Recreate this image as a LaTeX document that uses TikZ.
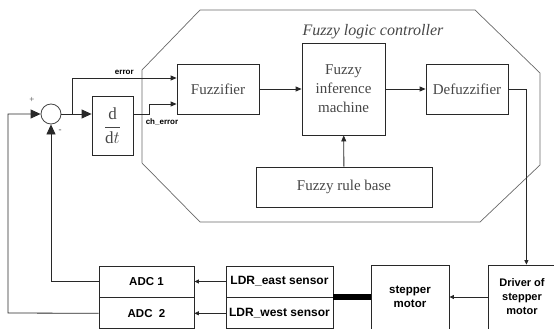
\documentclass[tikz,border=0pt]{standalone}
\usepackage{fontspec}
\setmainfont{Liberation Serif}
\setsansfont{Liberation Sans}
\usepackage{tikz}
\usetikzlibrary{positioning,arrows.meta}
\definecolor{ink}{RGB}{40,40,40}
\definecolor{txt}{RGB}{70,70,70}
\definecolor{frame}{RGB}{105,105,105}

\begin{document}
\begin{tikzpicture}[x=1pt,y=-1pt,line width=0.8pt,draw=ink,
  b/.style={draw=ink,rectangle,inner sep=0pt,align=center,text=txt,font=\fontsize{15}{19}\selectfont},
  sb/.style={draw=ink,rectangle,inner sep=0pt,align=center,text=black,font=\sffamily\bfseries\fontsize{11.5}{14}\selectfont},
  lb/.style={font=\sffamily\bfseries\fontsize{8}{9}\selectfont,text=black},
  ar/.style={-{Triangle[length=6pt,width=5pt]},ink},
  arb/.style={-{Triangle[length=10pt,width=9pt]},ink},
  ars/.style={-{Triangle[length=4.5pt,width=4pt]},ink}]
  \useasboundingbox (0,0) rectangle (554,329);
  % controller frame
  \draw[frame,line width=0.7pt] (200,10) -- (475,10) -- (540,73) -- (540,165) -- (480,222)
    -- (200,222) -- (142,163) -- (142,70) -- cycle;
  \node[text=txt,font=\itshape\fontsize{16}{18}\selectfont] (flc) at (373,32) {Fuzzy logic controller};
  % controller blocks
  \node[b,minimum width=82pt,minimum height=50pt] (fuzz) at (218,89) {Fuzzifier};
  \node[b,minimum width=83pt,minimum height=92pt] (fim) at (343.5,89) {Fuzzy\\inference\\machine};
  \node[b,minimum width=82pt,minimum height=50pt] (defz) at (467,89) {Defuzzifier};
  \node[b,minimum width=176pt,minimum height=40pt] (rule) at (344,187) {Fuzzy rule base};
  % error path
  \node[draw=txt,circle,minimum size=20pt,inner sep=0pt] (sum) at (51,114) {};
  \node[b,minimum width=41pt,minimum height=59pt,font=\fontsize{17}{20}\selectfont] (ddt) at (112.5,125.5)
    {$\displaystyle\frac{\mathrm{d}}{\mathrm{d}t}$};
  \node[font=\fontsize{9}{9}\selectfont,text=txt] (plus) at (32,100) {+};
  \node[font=\fontsize{9}{9}\selectfont,text=txt] (minus) at (60,131) {-};
  \coordinate (split) at (72,114);
  % plant side
  \node[sb,minimum width=95pt,minimum height=31pt] (adc1) at (146.5,281.5) {ADC 1};
  \node[sb,minimum width=95pt,minimum height=31pt,below=0pt of adc1] (adc2) {ADC\ \ 2};
  \node[sb,minimum width=107pt,minimum height=31pt,font=\sffamily\bfseries\fontsize{12}{14}\selectfont] (ldre) at (279.5,281.5) {LDR\_east sensor};
  \node[sb,minimum width=107pt,minimum height=31pt,below=0pt of ldre,font=\sffamily\bfseries\fontsize{12}{14}\selectfont] (ldrw) {LDR\_west sensor};
  \node[sb,minimum width=78pt,minimum height=64pt] (step) at (410,297) {stepper\\motor};
  \node[sb,minimum width=68pt,minimum height=64pt,font=\sffamily\bfseries\fontsize{11}{14}\selectfont] (drv) at (522,297) {Driver of\\stepper\\motor};
  % connections
  \draw[arb] (sum.east) -- (sum.east -| ddt.west);
  \draw[ar] (split) |- ([yshift=11pt]fuzz.west) node[lb,pos=0.75,above] (err) {error};
  \draw[ar] (ddt.east |- sum.east) -- ++(16,0) |- ([yshift=-15pt]fuzz.west);
  \node[lb] (cherr) at (162,122) {ch\_error};
  \draw[ar] (fuzz) -- (fim);
  \draw[ar] (fim) -- (defz);
  \draw[ar] (rule) -- (fim);
  \draw[ars] (defz.east) -- ++(18,0) coordinate (dd) -- (dd |- drv.north);
  \draw[ars] (drv) -- (step);
  \draw[line width=6pt,black] (ldre.south east) -- (step.west |- ldre.south east);
  \draw[ars] (ldre) -- (adc1);
  \draw[ars] (ldrw) -- (adc2);
  \draw[arb] (adc1.west) -| (sum.south);
  \draw[arb] (adc2.west) -- (8,313) |- (sum.west);
\end{tikzpicture}
\end{document}
